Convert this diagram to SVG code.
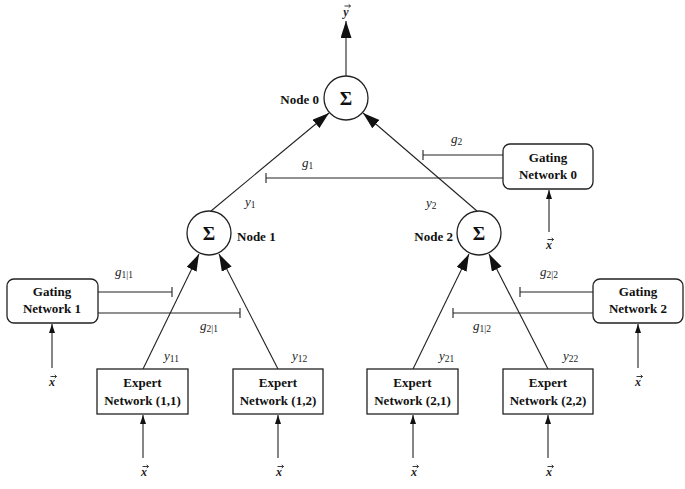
<svg xmlns="http://www.w3.org/2000/svg" width="685" height="489" viewBox="0 0 685 489">
<defs>
<style>
.bx{fill:#fff;stroke:#222;stroke-width:1.3}
.ln{fill:none;stroke:#222;stroke-width:1.1}
.acc{fill:none;stroke:#222;stroke-width:0.9}
.lb{font-family:"Liberation Serif","Times New Roman",serif;font-weight:bold;font-size:13px;fill:#111}
.ct{text-anchor:middle}
.m{font-family:"Liberation Serif","Times New Roman",serif;font-style:italic;font-size:13px;fill:#222}
.v{font-family:"Liberation Serif","Times New Roman",serif;font-style:italic;font-weight:bold;font-size:12px;fill:#222;text-anchor:middle}
.s{font-size:9.5px;font-style:normal}
.sig{font-family:"Liberation Serif","Times New Roman",serif;font-weight:bold;font-size:19px;fill:#111;text-anchor:middle}
</style>
<marker id="big" markerUnits="userSpaceOnUse" markerWidth="18" markerHeight="12" refX="17" refY="5.5" orient="auto">
<path d="M0,0 L17,5.5 L0,11 z" fill="#111"/>
</marker>
<marker id="sm" markerUnits="userSpaceOnUse" markerWidth="10" markerHeight="8" refX="9" refY="3" orient="auto">
<path d="M0,0 L9,3 L0,6 z" fill="#111"/>
</marker>
<path id="vec" class="acc" d="M-3,0 H3 M1.2,-1.6 L3,0 L1.2,1.6"/>
</defs>
<rect width="685" height="489" fill="#fff"/>

<g id="connectors">
<line class="ln" x1="346" y1="76" x2="346" y2="21" marker-end="url(#big)"/>
<line class="ln" x1="211" y1="211" x2="329" y2="113" marker-end="url(#big)"/>
<line class="ln" x1="477" y1="211" x2="363" y2="113" marker-end="url(#big)"/>
<line class="ln" x1="143" y1="369" x2="199" y2="254" marker-end="url(#big)"/>
<line class="ln" x1="278" y1="369" x2="219" y2="254" marker-end="url(#big)"/>
<line class="ln" x1="413" y1="369" x2="469" y2="254" marker-end="url(#big)"/>
<line class="ln" x1="548" y1="369" x2="489" y2="254" marker-end="url(#big)"/>
<path class="ln" d="M503,155 H423 M423,150 V160"/>
<path class="ln" d="M503,178 H266 M266,173 V183"/>
<path class="ln" d="M98,292 H172 M172,287 V297"/>
<path class="ln" d="M98,313 H240 M240,308 V318"/>
<path class="ln" d="M593,292 H520 M520,287 V297"/>
<path class="ln" d="M593,313 H453 M453,308 V318"/>
<line class="ln" x1="549" y1="232" x2="549" y2="190" marker-end="url(#sm)"/>
<line class="ln" x1="52" y1="368" x2="52" y2="324" marker-end="url(#sm)"/>
<line class="ln" x1="638" y1="368" x2="638" y2="324" marker-end="url(#sm)"/>
<line class="ln" x1="143" y1="458" x2="143" y2="415" marker-end="url(#sm)"/>
<line class="ln" x1="278" y1="458" x2="278" y2="415" marker-end="url(#sm)"/>
<line class="ln" x1="413" y1="458" x2="413" y2="415" marker-end="url(#sm)"/>
<line class="ln" x1="548" y1="458" x2="548" y2="415" marker-end="url(#sm)"/>
</g>

<g id="labels">
<text class="v" x="346" y="16">y</text><use href="#vec" x="347.5" y="6"/>
<text class="m" x="302" y="167">g<tspan class="s" dy="2">1</tspan></text>
<text class="m" x="451" y="143">g<tspan class="s" dy="2">2</tspan></text>
<text class="m" x="245" y="206">y<tspan class="s" dy="2">1</tspan></text>
<text class="m" x="426" y="207">y<tspan class="s" dy="2">2</tspan></text>
<text class="m" x="115" y="276">g<tspan class="s" dy="2">1|1</tspan></text>
<text class="m" x="200" y="330">g<tspan class="s" dy="2">2|1</tspan></text>
<text class="m" x="540" y="276">g<tspan class="s" dy="2">2|2</tspan></text>
<text class="m" x="473" y="330">g<tspan class="s" dy="2">1|2</tspan></text>
<text class="m" x="164" y="360">y<tspan class="s" dy="2">11</tspan></text>
<text class="m" x="292" y="360">y<tspan class="s" dy="2">12</tspan></text>
<text class="m" x="439" y="360">y<tspan class="s" dy="2">21</tspan></text>
<text class="m" x="563" y="360">y<tspan class="s" dy="2">22</tspan></text>
<text class="v" x="549" y="249">x</text><use href="#vec" x="550.5" y="239.5"/>
<text class="v" x="52" y="386">x</text><use href="#vec" x="53.5" y="376.5"/>
<text class="v" x="638" y="386">x</text><use href="#vec" x="639.5" y="376.5"/>
<text class="v" x="144" y="476">x</text><use href="#vec" x="145.5" y="466.5"/>
<text class="v" x="279" y="476">x</text><use href="#vec" x="280.5" y="466.5"/>
<text class="v" x="414" y="476">x</text><use href="#vec" x="415.5" y="466.5"/>
<text class="v" x="549" y="476">x</text><use href="#vec" x="550.5" y="466.5"/>
</g>

<g id="node0">
<circle class="bx" cx="346" cy="98" r="22"/>
<text class="sig" x="346" y="105">Σ</text>
<text class="lb" x="319" y="104" text-anchor="end">Node 0</text>
</g>
<g id="node1">
<circle class="bx" cx="209" cy="233" r="22"/>
<text class="sig" x="209" y="240">Σ</text>
<text class="lb" x="237" y="241">Node 1</text>
</g>
<g id="node2">
<circle class="bx" cx="479" cy="233" r="22"/>
<text class="sig" x="479" y="240">Σ</text>
<text class="lb" x="453" y="241" text-anchor="end">Node 2</text>
</g>

<g id="gating0">
<rect class="bx" x="503" y="144" width="90" height="45" rx="7"/>
<text class="lb ct" x="548" y="162">Gating</text>
<text class="lb ct" x="548" y="179">Network 0</text>
</g>
<g id="gating1">
<rect class="bx" x="7" y="279" width="91" height="44" rx="7"/>
<text class="lb ct" x="52" y="296">Gating</text>
<text class="lb ct" x="52" y="313">Network 1</text>
</g>
<g id="gating2">
<rect class="bx" x="593" y="279" width="90" height="44" rx="7"/>
<text class="lb ct" x="638" y="296">Gating</text>
<text class="lb ct" x="638" y="313">Network 2</text>
</g>

<g id="expert11">
<rect class="bx" x="97" y="369" width="91" height="45"/>
<text class="lb ct" x="142.5" y="387">Expert</text>
<text class="lb ct" x="142.5" y="405">Network (1,1)</text>
</g>
<g id="expert12">
<rect class="bx" x="233" y="369" width="90" height="45"/>
<text class="lb ct" x="278" y="387">Expert</text>
<text class="lb ct" x="278" y="405">Network (1,2)</text>
</g>
<g id="expert21">
<rect class="bx" x="367" y="369" width="91" height="45"/>
<text class="lb ct" x="412.5" y="387">Expert</text>
<text class="lb ct" x="412.5" y="405">Network (2,1)</text>
</g>
<g id="expert22">
<rect class="bx" x="503" y="369" width="90" height="45"/>
<text class="lb ct" x="548" y="387">Expert</text>
<text class="lb ct" x="548" y="405">Network (2,2)</text>
</g>
</svg>
